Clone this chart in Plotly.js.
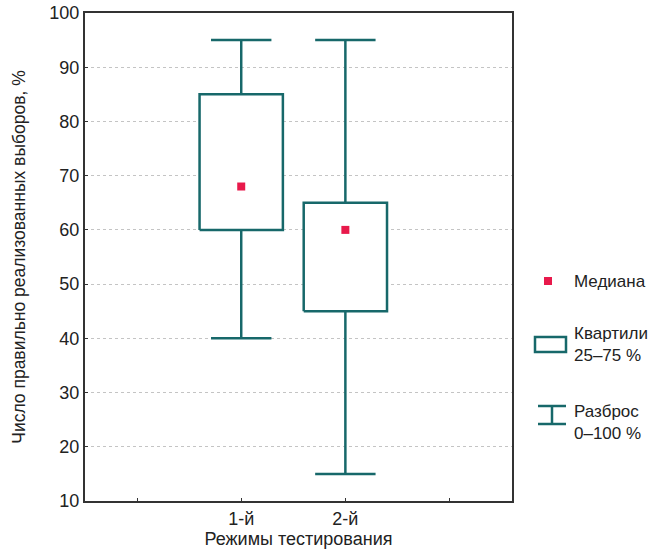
<!DOCTYPE html>
<html>
<head>
<meta charset="utf-8">
<script src="https://cdn.plot.ly/plotly-3.0.1.min.js"></script>
<style>html,body{margin:0;padding:0;background:#fff;}#chart{width:669px;height:553px;}</style>
</head>
<body>
<div id="chart"></div>
<script>
// Data
const categories = ['1-й', '2-й'];
const catPos = [1, 2];
const q1 = [60, 45];
const q3 = [85, 65];
const medians = [68, 60];
const mins = [40, 15];
const maxs = [95, 95];
const yTicks = [10, 20, 30, 40, 50, 60, 70, 80, 90, 100];

const teal = '#17686a';
const red = '#e8194b';
const boxHalf = 0.4;
const capHalf = 0.29;

const traces = [];
// Whiskers
const wx = [], wy = [];
catPos.forEach((c, i) => {
  wx.push(c, c, null, c, c, null, c - capHalf, c + capHalf, null, c - capHalf, c + capHalf, null);
  wy.push(maxs[i], q3[i], null, q1[i], mins[i], null, maxs[i], maxs[i], null, mins[i], mins[i], null);
});
traces.push({type: 'scatter', mode: 'lines', x: wx, y: wy, line: {color: teal, width: 2.5}, hoverinfo: 'skip', showlegend: false});
// Boxes
catPos.forEach((c, i) => {
  traces.push({
    type: 'scatter', mode: 'lines',
    x: [c - boxHalf, c + boxHalf, c + boxHalf, c - boxHalf, c - boxHalf],
    y: [q1[i], q1[i], q3[i], q3[i], q1[i]],
    fill: 'toself', fillcolor: '#ffffff',
    line: {color: teal, width: 2.5}, showlegend: false, hoverinfo: 'skip'
  });
});
// Medians
traces.push({type: 'scatter', mode: 'markers', x: catPos, y: medians,
  marker: {symbol: 'square', size: 8, color: red}, showlegend: false});

const L = 85, R = 512, T = 13, B = 501;
const px = x => (x - L) / (R - L);
const py = y => (B - y) / (B - T);

const shapes = [
  {type: 'rect', xref: 'paper', yref: 'paper', x0: px(544), x1: px(552), y0: py(285), y1: py(277), fillcolor: red, line: {width: 0}},
  {type: 'rect', xref: 'paper', yref: 'paper', x0: px(535), x1: px(566), y0: py(352), y1: py(337), fillcolor: '#fff', line: {color: teal, width: 2.5}},
  {type: 'line', xref: 'paper', yref: 'paper', x0: px(538), x1: px(566), y0: py(406), y1: py(406), line: {color: teal, width: 2.5}},
  {type: 'line', xref: 'paper', yref: 'paper', x0: px(552), x1: px(552), y0: py(406), y1: py(424), line: {color: teal, width: 2.5}},
  {type: 'line', xref: 'paper', yref: 'paper', x0: px(538), x1: px(566), y0: py(424), y1: py(424), line: {color: teal, width: 2.5}}
];
const fam = 'Liberation Sans, Arial, sans-serif';
const fnt = {family: fam, size: 17, color: '#222'};
const annotations = [
  {xref: 'paper', yref: 'paper', x: px(572), y: py(281), text: 'Медиана', showarrow: false, xanchor: 'left', yanchor: 'middle', align: 'left', font: fnt},
  {xref: 'paper', yref: 'paper', x: px(572), y: py(344), text: 'Квартили<br>25–75 %', showarrow: false, xanchor: 'left', yanchor: 'middle', align: 'left', font: fnt},
  {xref: 'paper', yref: 'paper', x: px(572), y: py(422), text: 'Разброс<br>0–100 %', showarrow: false, xanchor: 'left', yanchor: 'middle', align: 'left', font: fnt}
];

const layout = {
  width: 669, height: 553,
  margin: {l: L, r: 669 - R, t: T, b: 553 - B},
  paper_bgcolor: '#fff', plot_bgcolor: '#fff',
  showlegend: false,
  font: {family: fam, size: 18, color: '#222'},
  xaxis: {
    range: [-0.5, 3.6], tickvals: [0, 1, 2, 3], ticktext: ['', categories[0], categories[1], ''],
    ticks: 'inside', ticklen: 3, tickcolor: '#333', showgrid: false, zeroline: false,
    showline: true, mirror: true, linecolor: '#333', linewidth: 2,
    title: {text: 'Режимы тестирования', font: {size: 18}, standoff: 4},
    tickfont: {size: 18}
  },
  yaxis: {
    range: [10, 100], tickvals: yTicks, ticks: 'inside', ticklen: 3, tickcolor: '#333',
    showgrid: true, gridcolor: '#c4c4c4', griddash: 'dot', gridwidth: 1, zeroline: false,
    showline: true, mirror: true, linecolor: '#333', linewidth: 2,
    title: {text: 'Число правильно реализованных выборов, %', font: {size: 17.5}, standoff: 19},
    tickfont: {size: 18}
  },
  shapes: shapes,
  annotations: annotations
};

Plotly.newPlot('chart', traces, layout, {displayModeBar: false, staticPlot: true});
</script>
</body>
</html>
